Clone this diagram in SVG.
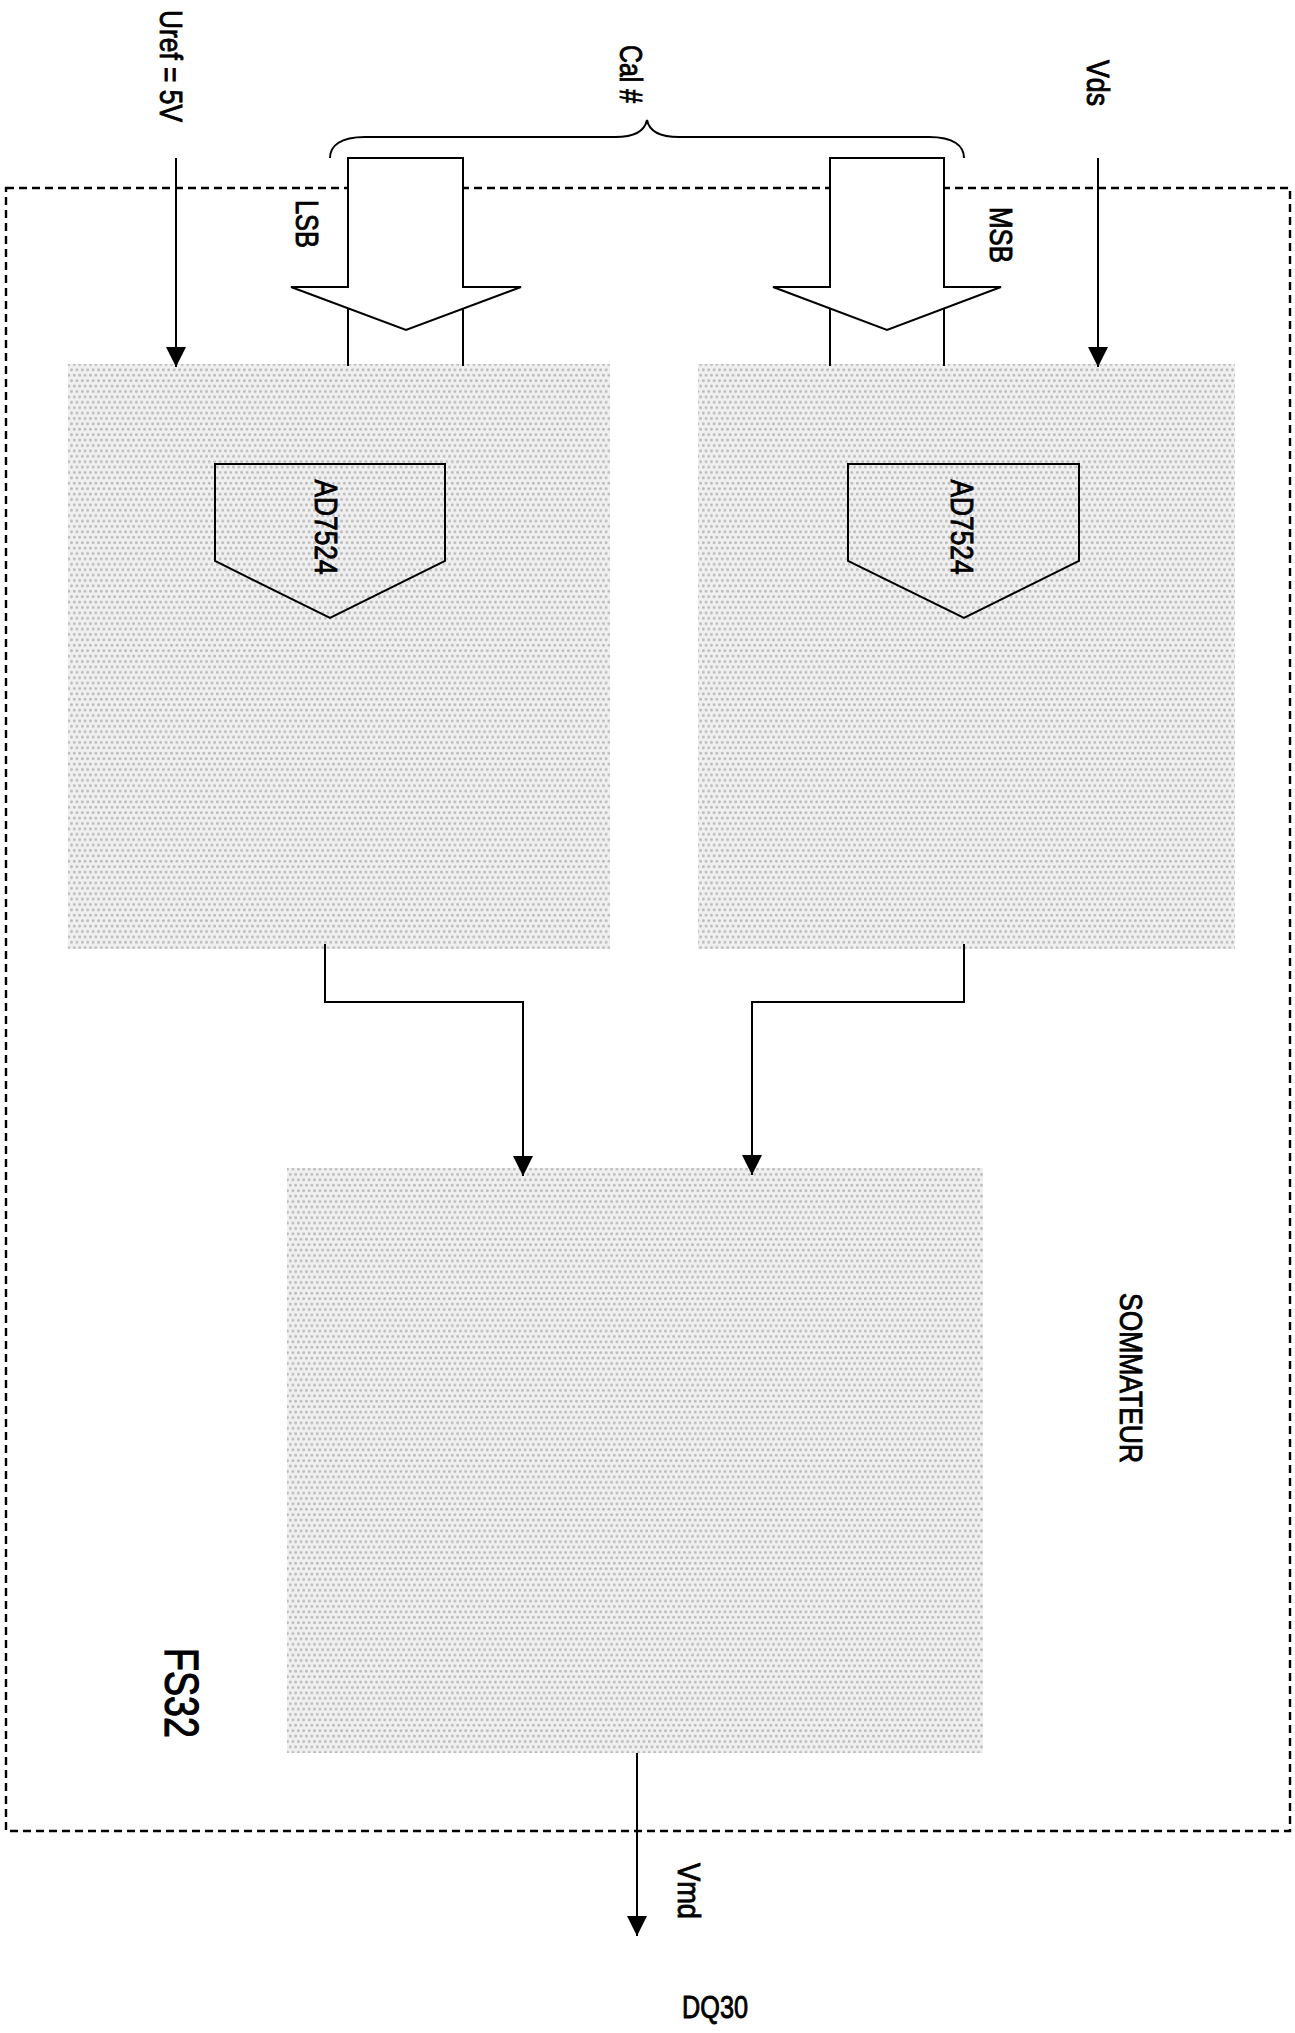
<svg xmlns="http://www.w3.org/2000/svg" width="1295" height="2033" viewBox="0 0 1295 2033">
<style>
.ln{fill:none;stroke:#000;stroke-width:2}
.fat{fill:#fff;stroke:#000;stroke-width:2;stroke-linejoin:miter}
.box{fill:url(#dots);stroke:none}
.pent{fill:none;stroke:#000;stroke-width:2}
.t{font-family:"Liberation Sans Narrow","Liberation Sans",Arial,sans-serif;font-size:32px;fill:#000;stroke:#000;stroke-width:0.9;text-anchor:middle}
.border{fill:none;stroke:#000;stroke-width:2.4;stroke-dasharray:8 5}
</style>
<defs>
<pattern id="dots" patternUnits="userSpaceOnUse" width="5.4" height="10.8">
<rect width="5.4" height="10.8" fill="#f0f0f0"/>
<circle cx="1.35" cy="2.7" r="1.4" fill="#bababa"/>
<circle cx="4.05" cy="8.1" r="1.4" fill="#bababa"/>
</pattern>
<marker id="ah" markerUnits="userSpaceOnUse" markerWidth="20" markerHeight="20" refX="20" refY="10" orient="auto">
<path d="M0,0 L20,10 L0,20 z" fill="#000"/>
</marker>
</defs>
<rect class="border" x="6" y="188" width="1284" height="1643"/>
<g id="dac-lsb">
<rect class="box" x="68" y="364" width="542" height="585"/>
<polygon class="pent" points="215,464 445,464 445,561 330,618 215,561"/>
<text class="t" transform="translate(327,527) rotate(90)" dy="0.36em" textLength="95" lengthAdjust="spacingAndGlyphs">AD7524</text>
</g>
<g id="dac-msb">
<rect class="box" x="698" y="364" width="537" height="585"/>
<polygon class="pent" points="848,464 1079,464 1079,561 964,618 848,561"/>
<text class="t" transform="translate(963,527) rotate(90)" dy="0.36em" textLength="95" lengthAdjust="spacingAndGlyphs">AD7524</text>
</g>
<g id="sommateur">
<rect class="box" x="287" y="1168" width="696" height="585"/>
<text class="t" transform="translate(1132,1378) rotate(90)" dy="0.36em" textLength="170" lengthAdjust="spacingAndGlyphs">SOMMATEUR</text>
</g>
<g id="bus-lsb">
<polygon class="fat" points="348,158 463,158 463,287 521,287 406,330 291,287 348,287"/>
<line class="ln" x1="348" y1="308" x2="348" y2="366"/>
<line class="ln" x1="463" y1="308" x2="463" y2="366"/>
<text class="t" transform="translate(308,224) rotate(90)" dy="0.36em" textLength="48" lengthAdjust="spacingAndGlyphs">LSB</text>
</g>
<g id="bus-msb">
<polygon class="fat" points="830,158 944,158 944,287 1001,287 887,330 773,287 830,287"/>
<line class="ln" x1="830" y1="308" x2="830" y2="366"/>
<line class="ln" x1="944" y1="308" x2="944" y2="366"/>
<text class="t" transform="translate(1002,235) rotate(90)" dy="0.36em" textLength="56" lengthAdjust="spacingAndGlyphs">MSB</text>
</g>
<g id="cal">
<path class="ln" d="M330,158 C330,146 340,137 365,137 L615,137 C635,137 645,130 647,120 C649,130 659,137 679,137 L929,137 C954,137 964,146 964,158"/>
<text class="t" transform="translate(632,74) rotate(90)" dy="0.36em" textLength="58" lengthAdjust="spacingAndGlyphs">Cal #</text>
</g>
<g id="connectors">
<line class="ln" x1="176" y1="158" x2="176" y2="367" marker-end="url(#ah)"/>
<line class="ln" x1="1098" y1="158" x2="1098" y2="367" marker-end="url(#ah)"/>
<polyline class="ln" points="325,944 325,1002 523,1002 523,1176" marker-end="url(#ah)"/>
<polyline class="ln" points="964,944 964,1002 752,1002 752,1175" marker-end="url(#ah)"/>
<line class="ln" x1="637" y1="1753" x2="637" y2="1936" marker-end="url(#ah)"/>
</g>
<g id="labels">
<text class="t" transform="translate(172,66) rotate(90)" dy="0.36em" textLength="112" lengthAdjust="spacingAndGlyphs">Uref = 5V</text>
<text class="t" transform="translate(1099,83) rotate(90)" dy="0.36em" textLength="46" lengthAdjust="spacingAndGlyphs">Vds</text>
<text class="t" transform="translate(690,1891) rotate(90)" dy="0.36em" textLength="56" lengthAdjust="spacingAndGlyphs">Vmd</text>
<text class="t" style="font-size:48px;stroke-width:1.2" transform="translate(182,1693) rotate(90)" dy="0.36em" textLength="90" lengthAdjust="spacingAndGlyphs">FS32</text>
<text class="t" x="715" y="2018" textLength="66" lengthAdjust="spacingAndGlyphs">DQ30</text>
</g>
</svg>
